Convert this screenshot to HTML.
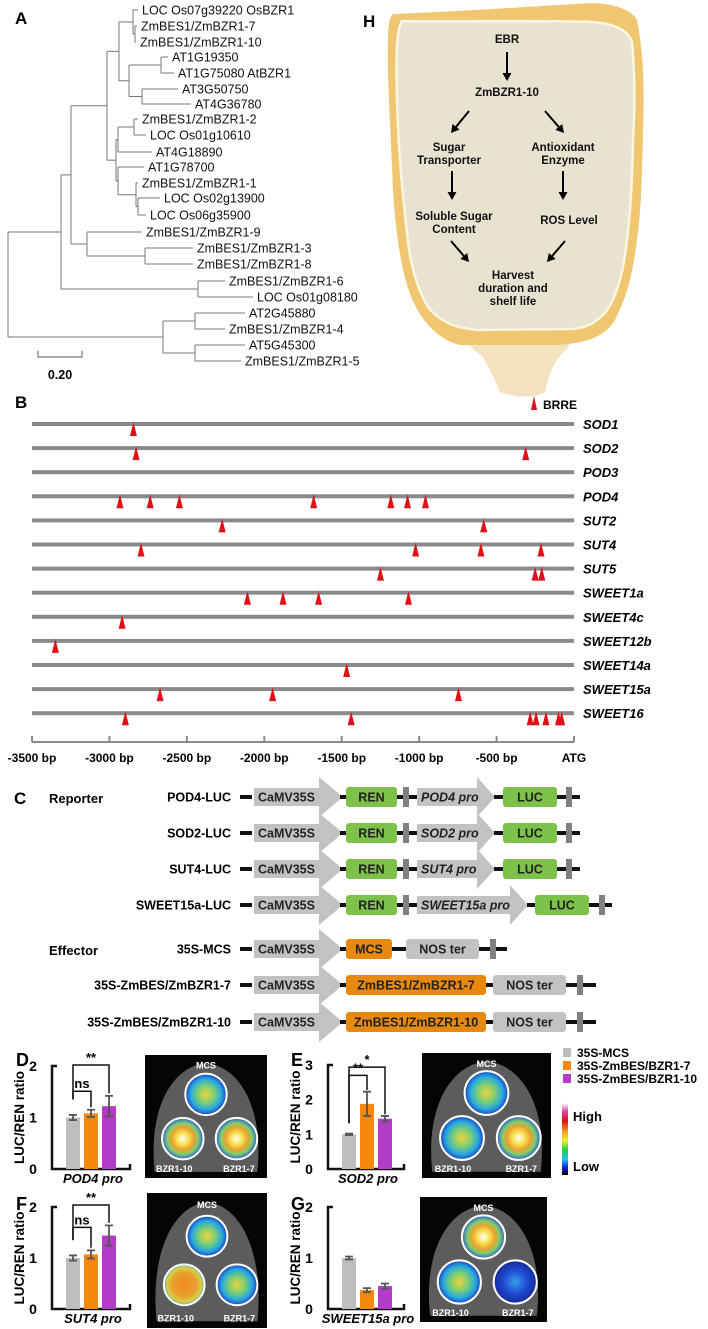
<!DOCTYPE html>
<html><head><meta charset="utf-8"><style>
html,body{margin:0;padding:0;background:#fff;}
svg{display:block;font-family:"Liberation Sans",sans-serif;}
</style></head><body>
<svg id="fig" width="708" height="1329" viewBox="0 0 708 1329" xmlns="http://www.w3.org/2000/svg">
<defs>
<radialGradient id="gHot" cx="50%" cy="50%" r="50%"><stop offset="0" stop-color="#fff"/><stop offset="0.3" stop-color="#f5e04a"/><stop offset="0.55" stop-color="#e9a030"/><stop offset="0.75" stop-color="#7fd06a"/><stop offset="1" stop-color="#2a5bd8"/></radialGradient>
<radialGradient id="gMid" cx="50%" cy="50%" r="50%"><stop offset="0" stop-color="#f0d040"/><stop offset="0.4" stop-color="#7fd070"/><stop offset="0.75" stop-color="#25a8e0"/><stop offset="1" stop-color="#1e3fc0"/></radialGradient>
<radialGradient id="gCool" cx="50%" cy="50%" r="50%"><stop offset="0" stop-color="#3aa0e8"/><stop offset="0.5" stop-color="#2050d8"/><stop offset="1" stop-color="#152a9a"/></radialGradient>
<radialGradient id="gOr" cx="50%" cy="50%" r="50%"><stop offset="0" stop-color="#f08a20"/><stop offset="0.6" stop-color="#e8a030"/><stop offset="0.85" stop-color="#d8d040"/><stop offset="1" stop-color="#40b0e0"/></radialGradient>
<linearGradient id="cbar" x1="0" y1="0" x2="0" y2="1"><stop offset="0" stop-color="#fff"/><stop offset="0.12" stop-color="#e040a0"/><stop offset="0.25" stop-color="#e01010"/><stop offset="0.4" stop-color="#f0a020"/><stop offset="0.52" stop-color="#f0f020"/><stop offset="0.65" stop-color="#20d040"/><stop offset="0.78" stop-color="#20c0f0"/><stop offset="0.9" stop-color="#1020d0"/><stop offset="1" stop-color="#000"/></linearGradient>
</defs>
<g id="panelA"></g>
<g id="panelH"></g>
<g id="panelB"></g>
<g id="panelC"></g>
<g id="panelDG"></g>
</svg>
<script>
// ---------- Panel B data ----------
const promoterGenes = ["SOD1","SOD2","POD3","POD4","SUT2","SUT4","SUT5","SWEET1a","SWEET4c","SWEET12b","SWEET14a","SWEET15a","SWEET16"];
const brreSites = [
  [-2845],
  [-2828,-312],
  [],
  [-2932,-2737,-2548,-1681,-1183,-1075,-959],
  [-2272,-583],
  [-2796,-1023,-601,-213],
  [-1250,-251,-208],
  [-2109,-1879,-1649,-1069],
  [-2918],
  [-3349],
  [-1468],
  [-2673,-1946,-746],
  [-2897,-1439,-283,-245,-181,-100,-80]
];
const bpTicks = [-3500,-3000,-2500,-2000,-1500,-1000,-500,0];
const bpTickLabels = ["-3500 bp","-3000 bp","-2500 bp","-2000 bp","-1500 bp","-1000 bp","-500 bp","ATG"];
// ---------- Panels D-G data ----------
const groups = ["35S-MCS","35S-ZmBES/BZR1-7","35S-ZmBES/BZR1-10"];
const dMeans = [1.0,1.08,1.22];  const dErr = [0.05,0.07,0.2];
const eMeans = [1.0,1.88,1.45];  const eErr = [0.02,0.35,0.08];
const fMeans = [1.0,1.07,1.44];  const fErr = [0.05,0.08,0.2];
const gMeans = [1.0,0.37,0.45];  const gErr = [0.03,0.04,0.05];
const dTicks = [0,1,2]; const eTicks = [0,1,2,3]; const fTicks = [0,1,2]; const gTicks = [0,1,2];
const dBrackets = [[0,1,1.51,"ns"],[0,2,2.02,"**"]];
const eBrackets = [[0,1,2.7,"**"],[0,2,2.94,"*"]];
const fBrackets = [[0,1,1.6,"ns"],[0,2,2.04,"**"]];
const gBrackets = [];

const NS="http://www.w3.org/2000/svg";
function mk(parent, tag, attrs, text){
  const e=document.createElementNS(NS,tag);
  for(const k in attrs) e.setAttribute(k,attrs[k]);
  if(text!==undefined) e.textContent=text;
  parent.appendChild(e); return e;
}
// ================= Panel A =================
(function(){
  const g=document.getElementById('panelA');
  const A=mk(g,'text',{x:15,y:24,'font-size':17,'font-weight':'bold'},'A');
  
  
  const L=(n,y,x)=>({leaf:n,y:y,x:x});
  const N=(x,c)=>({x:x,c:c});
  const tree=N(8,[
    N(61,[
      N(71,[
        N(107,[
          N(119,[
            N(133,[L("LOC Os07g39220 OsBZR1",10,142),N(135,[L("ZmBES1/ZmBZR1-7",26,141),L("ZmBES1/ZmBZR1-10",42,140)])]),
            N(129,[N(161,[L("AT1G19350",57,172),L("AT1G75080 AtBZR1",73,178)]),N(142,[L("AT3G50750",89,182),L("AT4G36780",104,195)])])
          ]),
          N(116,[
            N(118,[N(134,[L("ZmBES1/ZmBZR1-2",119,142),L("LOC Os01g10610",135,150)]),L("AT4G18890",152,156)]),
            N(118,[L("AT1G78700",167,148),N(136,[L("ZmBES1/ZmBZR1-1",183,142),N(138,[L("LOC Os02g13900",198,164),L("LOC Os06g35900",215,150)])])])
          ])
        ]),
        N(87,[L("ZmBES1/ZmBZR1-9",232,146),N(145,[L("ZmBES1/ZmBZR1-3",248,197),L("ZmBES1/ZmBZR1-8",264,197)])])
      ]),
      N(198,[L("ZmBES1/ZmBZR1-6",281,229),L("LOC Os01g08180",297,257)])
    ]),
    N(163,[N(195,[L("AT2G45880",313,249),L("ZmBES1/ZmBZR1-4",329,229)]),N(195,[L("AT5G45300",345,249),L("ZmBES1/ZmBZR1-5",361,245)])])
  ]);
  function draw(n){
    if(n.leaf!==undefined) return n.y;
    const ys=n.c.map(ch=>{
      const y=draw(ch);
      const ex = ch.leaf!==undefined ? ch.x-4 : ch.x;
      const br=mk(g,'line',{x1:n.x,y1:y,x2:ex,y2:y,stroke:'#777','stroke-width':1});
      
      
      if(ch.leaf!==undefined){
        const t=mk(g,'text',{x:ch.x,y:y+4.5,'font-size':12.5,fill:'#111'},ch.leaf);
        
        
      }
      return y;
    });
    const y0=ys[0], y1=ys[ys.length-1];
    mk(g,'line',{x1:n.x,y1:y0,x2:n.x,y2:y1,stroke:'#777','stroke-width':1});
    n.y=(y0+y1)/2; return n.y;
  }
  draw(tree);
  const sb=mk(g,'path',{d:'M38 351 V357 H82 V351',fill:'none',stroke:'#777','stroke-width':1.2});
  
  
  const st=mk(g,'text',{x:60,y:379,'font-size':12.5,'text-anchor':'middle','font-weight':'bold'},'0.20');
  
  
})();
// ================= Panel H =================
(function(){
  const g=document.getElementById('panelH');
  const h=mk(g,'text',{x:363,y:27,'font-size':17,'font-weight':'bold'},'H');
  
  
  const ped=mk(g,'path',{d:'M466 336 C470 350 478 352 482 356 C488 366 494 378 500 392 C515 398 535 398 545 392 C548 378 552 364 562 354 C568 348 572 342 570 336 Z',fill:'#f4e2bf'});
  
  
  const outer=mk(g,'path',{d:'M393 14 C450 12 540 6 593 3 C615 4 632 10 637 20 C645 60 644 100 643 133 C642 190 640 220 637 240 C632 280 625 300 615 320 C605 336 590 342 560 345 L460 345 C440 340 425 325 415 305 C402 280 394 230 392 167 C390 120 387 70 388 40 C388 25 390 16 393 14 Z',fill:'#f0c670'});
  
  
  const inner=mk(g,'path',{d:'M402 21 C460 22 540 20 593 22 C615 24 628 30 632 42 C636 90 634 120 633 140 C632 200 628 240 623 267 C618 290 612 305 604 314 C594 324 585 328 572 329 L478 330 C455 328 440 322 428 307 C418 290 410 265 407 233 C402 190 398 140 397 100 C396 60 396 30 402 21 Z',fill:'#e8e3d1',stroke:'#fbf6e0','stroke-width':2.5});
  
  
  const T=(lines,x,y,name)=>{
    lines.forEach((s,i)=>{
      const t=mk(g,'text',{x:x,y:y+i*13,'font-size':11.5,'font-weight':'bold','text-anchor':'middle',fill:'#111'},s);
      
      
    });
  };
  T(["EBR"],507,43,'node-ebr');
  T(["ZmBZR1-10"],507,96,'node-zmbzr1-10');
  T(["Sugar","Transporter"],449,151,'node-sugar-transporter');
  T(["Antioxidant","Enzyme"],563,151,'node-antioxidant-enzyme');
  T(["Soluble Sugar","Content"],454,220,'node-soluble-sugar');
  T(["ROS Level"],569,224,'node-ros-level');
  T(["Harvest","duration and","shelf life"],513,279,'node-harvest-duration');
  const arrow=(x1,y1,x2,y2)=>{
    const a=Math.atan2(y2-y1,x2-x1), L=8, W=4.5;
    const bx=x2-L*Math.cos(a), by=y2-L*Math.sin(a);
    const l=mk(g,'line',{x1:x1,y1:y1,x2:bx,y2:by,stroke:'#000','stroke-width':2});
    
    
    mk(g,'polygon',{points:`${x2},${y2} ${bx-W*Math.sin(a)},${by+W*Math.cos(a)} ${bx+W*Math.sin(a)},${by-W*Math.cos(a)}`,fill:'#000'});
  };
  arrow(507,52,507,81); arrow(469,111,451,133); arrow(545,111,564,133);
  arrow(452,171,452,200); arrow(563,171,563,200); arrow(451,241,469,262); arrow(565,241,547,262);
})();
// ================= Panel B =================
(function(){
  const g=document.getElementById('panelB');
  const xL=32, xR=574, bp0=-3500, bp1=0;
  const xs=bp=>xL+(bp-bp0)/(bp1-bp0)*(xR-xL);
  const rowY=i=>424+i*24.1;
  const b=mk(g,'text',{x:15,y:408,'font-size':17,'font-weight':'bold'},'B');
  
  
  mk(g,'polygon',{points:'534,396 531,410 537,410',fill:'#e01018'});
  const lt=mk(g,'text',{x:543,y:409,'font-size':12,'font-weight':'bold'},'BRRE');
  
  
  promoterGenes.forEach((gene,i)=>{
    const y=rowY(i);
    const ln=mk(g,'rect',{x:xL,y:y-2,width:xR-xL,height:4,fill:'#8a8a8a'});
    
    
    const t=mk(g,'text',{x:583,y:y+5,'font-size':13,'font-weight':'bold','font-style':'italic'},gene);
    
    
    brreSites[i].forEach(bp=>{
      const x=xs(bp);
      const tri=mk(g,'polygon',{points:`${x},${y-2} ${x-3.5},${y+12} ${x+3.5},${y+12}`,fill:'#e01018'});
      
      
    });
  });
  const ay=742;
  const ax=mk(g,'line',{x1:xL,y1:ay,x2:xR,y2:ay,stroke:'#8a8a8a','stroke-width':2});
  
  
  bpTicks.forEach((bp,i)=>{
    const x=xs(bp);
    mk(g,'line',{x1:x,y1:ay,x2:x,y2:ay-6,stroke:'#8a8a8a','stroke-width':2});
    const t=mk(g,'text',{x:x,y:762,'font-size':12,'font-weight':'bold','text-anchor':'middle'},bpTickLabels[i]);
    
    
  });
})();
// ================= Panel C =================
(function(){
  const g=document.getElementById('panelC');
  const c=mk(g,'text',{x:14,y:804,'font-size':17,'font-weight':'bold'},'C');
  
  
  const r=mk(g,'text',{x:49,y:803,'font-size':13,'font-weight':'bold'},'Reporter');
  
  
  const ef=mk(g,'text',{x:49,y:955,'font-size':13,'font-weight':'bold'},'Effector');
  
  
  const line=(x1,x2,y)=>mk(g,'rect',{x:x1,y:y-2,width:x2-x1,height:4,fill:'#111'});
  const marker=(x,y)=>{const m=mk(g,'rect',{x:x-3,y:y-10,width:6,height:20,fill:'#808080'});};
  const arrowBox=(x1,x2,tip,y,label,italic,name)=>{
    const p=mk(g,'polygon',{points:`${x1},${y-9} ${x2},${y-9} ${x2},${y-20} ${tip},${y} ${x2},${y+20} ${x2},${y+9} ${x1},${y+9}`,fill:'#c2c2c2'});
    
    
    const t=mk(g,'text',{x:x1+4,y:y+4.5,'font-size':12.5,'font-weight':'bold','font-style':italic?'italic':'normal',fill:'#222'},label);
    
    
  };
  const box=(x1,x2,y,fill,label,name)=>{
    const b=mk(g,'rect',{x:x1,y:y-10,width:x2-x1,height:20,rx:3,fill:fill});
    
    
    const t=mk(g,'text',{x:(x1+x2)/2,y:y+4.5,'font-size':12.5,'font-weight':'bold','text-anchor':'middle',fill:'#222'},label);
    
    
  };
  const rowLabel=(y,s)=>{const t=mk(g,'text',{x:231,y:y+4.5,'font-size':12.5,'font-weight':'bold','text-anchor':'end'},s);};
  const rep=[["POD4-LUC","POD4 pro",797,false],["SOD2-LUC","SOD2 pro",833,false],["SUT4-LUC","SUT4 pro",869,false],["SWEET15a-LUC","SWEET15a  pro",905,true]];
  rep.forEach(([n,p,y,long])=>{
    rowLabel(y,n);
    line(240,252,y);
    arrowBox(254,319,343,y,'CaMV35S',false,'camv35s-promoter');
    line(340,348,y);
    box(346,397,y,'#7dc14a','REN','ren-gene');
    line(397,417,y); marker(406,y);
    if(!long){
      arrowBox(417,477,495,y,p,true,'target-promoter');
      line(494,505,y);
      box(503,557,y,'#7dc14a','LUC','luc-gene');
      line(557,580,y); marker(569,y);
    } else {
      arrowBox(417,510,528,y,p,true,'target-promoter');
      line(527,537,y);
      box(535,589,y,'#7dc14a','LUC','luc-gene');
      line(589,612,y); marker(602,y);
    }
  });
  const eff=[["35S-MCS","MCS",949,392,406,479,507,493],["35S-ZmBES/ZmBZR1-7","ZmBES1/ZmBZR1-7",985,486,493,566,596,580],["35S-ZmBES/ZmBZR1-10","ZmBES1/ZmBZR1-10",1022,486,493,566,596,580]];
  eff.forEach(([n,gname,y,oEnd,nS,nE,lEnd,mx])=>{
    rowLabel(y,n);
    line(240,252,y);
    arrowBox(254,319,343,y,'CaMV35S',false,'camv35s-promoter');
    line(340,348,y);
    box(346,oEnd,y,'#e8890f',gname,'effector-gene');
    line(oEnd,nS,y);
    box(nS,nE,y,'#c2c2c2','NOS ter','nos-terminator');
    line(nE,lEnd,y); marker(mx,y);
  });
})();
// ================= Panels D-G =================
(function(){
  const g=document.getElementById('panelDG');
  const colors=['#bdbdbd','#f6870f','#b23cc8'];
  function chart(letter,ax,y0,top,xEnd,maxV,ticks,means,errs,brackets,xlabel,lx,ly){
    const u=(y0-top)/maxV;
    const ys=v=>y0-v*u;
    const L=mk(g,'text',{x:lx,y:ly,'font-size':18,'font-weight':'bold'},letter);
    
    
    const axis=mk(g,'path',{d:`M${ax+5} ${top} H${ax} V${y0} H${xEnd} V${y0-5}`,fill:'none',stroke:'#111','stroke-width':2.5});
    
    
    ticks.forEach(v=>{
      const t=mk(g,'text',{x:ax-19,y:ys(v)+5,'font-size':14,'font-weight':'bold','text-anchor':'middle'},String(v));
      
      
    });
    const yt=mk(g,'text',{x:0,y:0,'font-size':13.5,'font-weight':'bold','text-anchor':'middle',transform:`translate(${ax-28},${(y0+top)/2}) rotate(-90)`},'LUC/REN ratio');
    
    
    const bx=i=>ax+14+i*18;
    means.forEach((m,i)=>{
      const b=mk(g,'rect',{x:bx(i),y:ys(m),width:14,height:y0-ys(m),fill:colors[i]});
      
      
      const cx=bx(i)+7;
      const e=mk(g,'path',{d:`M${cx} ${ys(m+errs[i])} V${ys(m-errs[i])} M${cx-4} ${ys(m+errs[i])} H${cx+4} M${cx-4} ${ys(m-errs[i])} H${cx+4}`,stroke:'#555','stroke-width':1.8,fill:'none'});
      
      
    });
    brackets.forEach(([a,b,v,s])=>{
      const xa=bx(a)+7, xb=bx(b)+7, y=ys(v);
      const la=ys(means[a]+errs[a]+0.3), lb=ys(means[b]+errs[b]+0.05);
      const p=mk(g,'path',{d:`M${xa} ${la} V${y} H${xb} V${lb}`,fill:'none',stroke:'#111','stroke-width':1.5});
      
      
      const t=mk(g,'text',{x:(xa+xb)/2,y:y-3,'font-size':13,'font-weight':'bold','text-anchor':'middle'},s);
      
      
    });
    const xl=mk(g,'text',{x:(ax+xEnd)/2+2,y:y0+14,'font-size':13,'font-weight':'bold','font-style':'italic','text-anchor':'middle'},xlabel);
    
    
  }
  chart('D',52,1169,1066,130,2,dTicks,dMeans,dErr,dBrackets,'POD4 pro',16,1066);
  chart('E',328,1169,1065,404,3,eTicks,eMeans,eErr,eBrackets,'SOD2 pro',291,1066);
  chart('F',52,1309,1207,130,2,fTicks,fMeans,fErr,fBrackets,'SUT4 pro',16,1210);
  chart('G',328,1309,1207,404,2,gTicks,gMeans,gErr,gBrackets,'SWEET15a pro',291,1210);

  function leaf(x,y,w,h,fills,name){
    const r=mk(g,'rect',{x:x,y:y,width:w,height:h,fill:'#050505'});
    
    
    mk(g,'path',{d:`M${x+w*0.08} ${y+h*0.95} C${x+w*0.02} ${y+h*0.4} ${x+w*0.25} ${y+h*0.08} ${x+w*0.5} ${y+h*0.07} C${x+w*0.75} ${y+h*0.08} ${x+w*0.98} ${y+h*0.4} ${x+w*0.92} ${y+h*0.95} Z`,fill:'#5c5c5c'});
    const rad=w*0.17;
    const pos=[[0.5,0.32],[0.31,0.68],[0.75,0.68]];
    pos.forEach(([px,py],i)=>{
      const c=mk(g,'circle',{cx:x+w*px,cy:y+h*py,r:rad,fill:fills[i],stroke:'#fff','stroke-width':2});
      
      
    });
    [['MCS',0.5,0.11],['BZR1-10',0.24,0.95],['BZR1-7',0.77,0.95]].forEach(([s,px,py])=>{
      const t=mk(g,'text',{x:x+w*px,y:y+h*py,'font-size':9,'font-weight':'bold','text-anchor':'middle',fill:'#fff'},s);
      
      
    });
  }
  leaf(145,1055,122,123,['url(#gMid)','url(#gHot)','url(#gHot)'],'luc-image-d');
  leaf(422,1053,129,125,['url(#gMid)','url(#gMid)','url(#gHot)'],'luc-image-e');
  leaf(147,1193,120,135,['url(#gMid)','url(#gOr)','url(#gMid)'],'luc-image-f');
  leaf(420,1197,127,125,['url(#gHot)','url(#gMid)','url(#gCool)'],'luc-image-g');

  groups.forEach((s,i)=>{
    const sq=mk(g,'rect',{x:563,y:1048+i*13,width:8,height:9,fill:colors[i]});
    
    
    const t=mk(g,'text',{x:577,y:1057+i*13,'font-size':12,'font-weight':'bold'},s);
    
    
  });
  const cb=mk(g,'rect',{x:562,y:1103,width:6,height:72,fill:'url(#cbar)'});
  
  
  const hi=mk(g,'text',{x:573,y:1121,'font-size':13,'font-weight':'bold'},'High');
  
  
  const lo=mk(g,'text',{x:573,y:1171,'font-size':13,'font-weight':'bold'},'Low');
  
  
})();
</script>
</body></html>
